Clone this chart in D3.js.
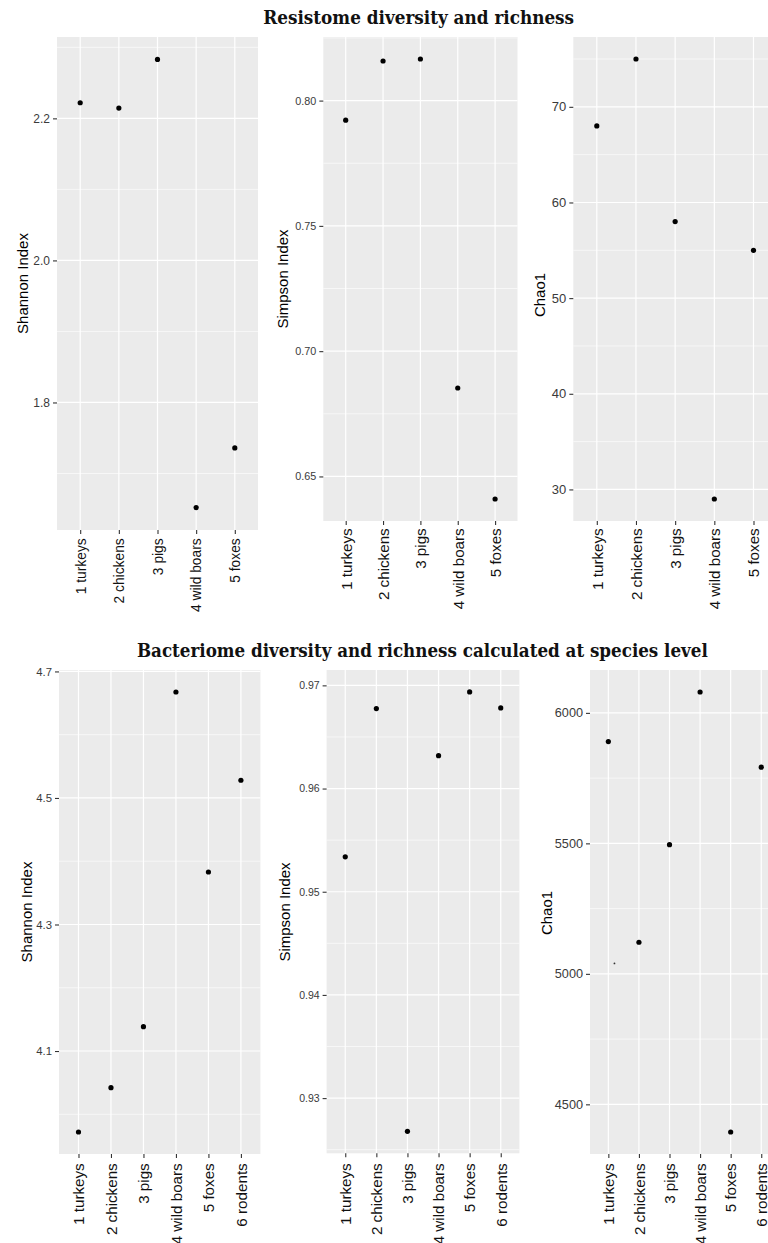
<!DOCTYPE html>
<html>
<head>
<meta charset="utf-8">
<script src="https://cdn.jsdelivr.net/npm/d3@7"></script>
<style>
  html, body { margin: 0; padding: 0; background: #ffffff; }
  svg { display: block; }
</style>
</head>
<body>
<svg id="chart" width="768" height="1243"></svg>
<script>
// ---- data ----
const resistomeCategories = ["1 turkeys", "2 chickens", "3 pigs", "4 wild boars", "5 foxes"];
const resistomeShannon = [2.222, 2.2145, 2.283, 1.652, 1.736];
const resistomeSimpson = [0.7922, 0.8158, 0.8166, 0.6853, 0.641];
const resistomeChao1 = [68, 75, 58, 29, 55];

const bacteriomeCategories = ["1 turkeys", "2 chickens", "3 pigs", "4 wild boars", "5 foxes", "6 rodents"];
const bacteriomeShannon = [3.972, 4.042, 4.1385, 4.6675, 4.383, 4.528];
const bacteriomeSimpson = [0.95338, 0.96775, 0.92678, 0.96319, 0.96936, 0.96781];
const bacteriomeChao1 = [5890, 5121, 5495, 6080, 4394, 5792];
// stray speck next to the turkeys point in the bacteriome Chao1 panel
const bacteriomeChao1Speck = [{ category: "1 turkeys", value: 5040 }];

const resistomeShannonTicks = [1.8, 2.0, 2.2];
const resistomeSimpsonTicks = [0.65, 0.70, 0.75, 0.80];
const resistomeChao1Ticks = [30, 40, 50, 60, 70];
const bacteriomeShannonTicks = [4.1, 4.3, 4.5, 4.7];
const bacteriomeSimpsonTicks = [0.93, 0.94, 0.95, 0.96, 0.97];
const bacteriomeChao1Ticks = [4500, 5000, 5500, 6000];

const titles = [
  "Resistome diversity and richness",
  "Bacteriome diversity and richness calculated at species level"
];

// ---- layout ----
const panels = [
  { cats: resistomeCategories, values: resistomeShannon, ticks: resistomeShannonTicks, fmt: ".1f",
    yTitle: "Shannon Index", left: 57, right: 258, top: 37, bottom: 530,
    tickFont: 12, labelFont: 13.8, labelGap: 8.3, titleX: 28, titleY: 283.5 },
  { cats: resistomeCategories, values: resistomeSimpson, ticks: resistomeSimpsonTicks, fmt: ".2f",
    yTitle: "Simpson Index", left: 323.3, right: 517.5, top: 37, bottom: 521,
    tickFont: 10.8, labelFont: 15.2, labelGap: 7.3, titleX: 288, titleY: 279 },
  { cats: resistomeCategories, values: resistomeChao1, ticks: resistomeChao1Ticks, fmt: "d",
    yTitle: "Chao1", left: 573.3, right: 777, top: 37, bottom: 521,
    tickFont: 13, labelFont: 15.2, labelGap: 7.3, titleX: 545, titleY: 295 },
  { cats: bacteriomeCategories, values: bacteriomeShannon, ticks: bacteriomeShannonTicks, fmt: ".1f",
    yTitle: "Shannon Index", left: 59, right: 260.4, top: 670, bottom: 1154,
    tickFont: 11.3, labelFont: 15.2, labelGap: 9.3, titleX: 32, titleY: 912 },
  { cats: bacteriomeCategories, values: bacteriomeSimpson, ticks: bacteriomeSimpsonTicks, fmt: ".2f",
    yTitle: "Simpson Index", left: 326.6, right: 519.4, top: 670, bottom: 1153.3,
    tickFont: 10.5, labelFont: 15.2, labelGap: 10, titleX: 290, titleY: 912 },
  { cats: bacteriomeCategories, values: bacteriomeChao1, ticks: bacteriomeChao1Ticks, fmt: "d",
    yTitle: "Chao1", left: 590, right: 779.6, top: 670, bottom: 1154,
    tickFont: 12.7, labelFont: 15.2, labelGap: 9.3, titleX: 551.7, titleY: 913, specks: bacteriomeChao1Speck }
];

const titleLayout = [
  { cx: 418.7, baseline: 24, width: 311 },
  { cx: 422.4, baseline: 657, width: 571 }
];

const svg = d3.select("#chart");
const sansFont = "'Liberation Sans', Arial, sans-serif";

panels.forEach(p => {
  const g = svg.append("g");

  const x = d3.scalePoint().domain(p.cats).range([p.left, p.right]).padding(0.6);

  // ggplot-style 5% expansion of the data range
  const [lo, hi] = d3.extent(p.values);
  const pad = (hi - lo) * 0.05;
  const y = d3.scaleLinear().domain([lo - pad, hi + pad]).range([p.bottom, p.top]);

  // panel background
  g.append("rect")
    .attr("x", p.left).attr("y", p.top)
    .attr("width", p.right - p.left).attr("height", p.bottom - p.top)
    .attr("fill", "#EBEBEB");

  // minor grid: half-way between major breaks
  const step = p.ticks[1] - p.ticks[0];
  const [d0, d1] = y.domain();
  const minor = [];
  for (let v = p.ticks[0] - step / 2 - step * 10; v <= d1; v += step) {
    if (v >= d0) minor.push(v);
  }
  g.selectAll(".minor").data(minor).join("line")
    .attr("x1", p.left).attr("x2", p.right)
    .attr("y1", d => y(d)).attr("y2", d => y(d))
    .attr("stroke", "#ffffff").attr("stroke-width", 0.6);

  // major grid
  g.selectAll(".majorY").data(p.ticks).join("line")
    .attr("x1", p.left).attr("x2", p.right)
    .attr("y1", d => y(d)).attr("y2", d => y(d))
    .attr("stroke", "#ffffff").attr("stroke-width", 1.2);
  g.selectAll(".majorX").data(p.cats).join("line")
    .attr("x1", d => x(d)).attr("x2", d => x(d))
    .attr("y1", p.top).attr("y2", p.bottom)
    .attr("stroke", "#ffffff").attr("stroke-width", 1.2);

  // y axis
  const yAxis = d3.axisLeft(y).tickValues(p.ticks).tickFormat(d3.format(p.fmt))
    .tickSize(4).tickPadding(3);
  const ya = g.append("g").attr("transform", `translate(${p.left},0)`).call(yAxis);
  ya.select(".domain").remove();
  ya.selectAll(".tick line").attr("stroke", "#333333").attr("stroke-width", 1.1);
  ya.selectAll(".tick text")
    .attr("fill", "#3A3A3A").style("font-family", sansFont).style("font-size", p.tickFont + "px");

  // x axis with rotated category labels
  const xAxis = d3.axisBottom(x).tickSize(4).tickPadding(0);
  const xa = g.append("g").attr("transform", `translate(0,${p.bottom})`).call(xAxis);
  xa.select(".domain").remove();
  xa.selectAll(".tick line").attr("stroke", "#333333").attr("stroke-width", 1.1);
  xa.selectAll(".tick text")
    .attr("fill", "#111111").style("font-family", sansFont).style("font-size", p.labelFont + "px")
    .attr("text-anchor", "end")
    .attr("transform", `translate(0,${p.labelGap}) rotate(-90)`)
    .attr("x", 0).attr("y", 0).attr("dy", "0.35em");

  // y axis title
  g.append("text")
    .attr("transform", `translate(${p.titleX},${p.titleY}) rotate(-90)`)
    .attr("text-anchor", "middle")
    .attr("fill", "#000000")
    .style("font-family", sansFont).style("font-size", "15px")
    .text(p.yTitle);

  // points
  const pts = p.cats.map((c, i) => ({ category: c, value: p.values[i] }));
  g.selectAll(".pt").data(pts).join("circle")
    .attr("cx", d => x(d.category)).attr("cy", d => y(d.value))
    .attr("r", 2.6).attr("fill", "#000000");

  if (p.specks) {
    g.selectAll(".speck").data(p.specks).join("circle")
      .attr("cx", d => x(d.category) + x.step() * 0.2).attr("cy", d => y(d.value))
      .attr("r", 0.9).attr("fill", "#333333");
  }
});

// section titles, sized to their measured span
titles.forEach((t, i) => {
  const L = titleLayout[i];
  const txt = svg.append("text")
    .attr("x", L.cx).attr("y", L.baseline)
    .attr("text-anchor", "middle")
    .attr("fill", "#111111")
    .style("font-family", "'DejaVu Serif Condensed', 'DejaVu Serif', 'Liberation Serif', serif")
    .style("font-weight", "bold")
    .style("font-size", "16px")
    .text(t);
  const len = txt.node().getComputedTextLength();
  txt.style("font-size", (16 * L.width / len).toFixed(2) + "px");
});
</script>
</body>
</html>
